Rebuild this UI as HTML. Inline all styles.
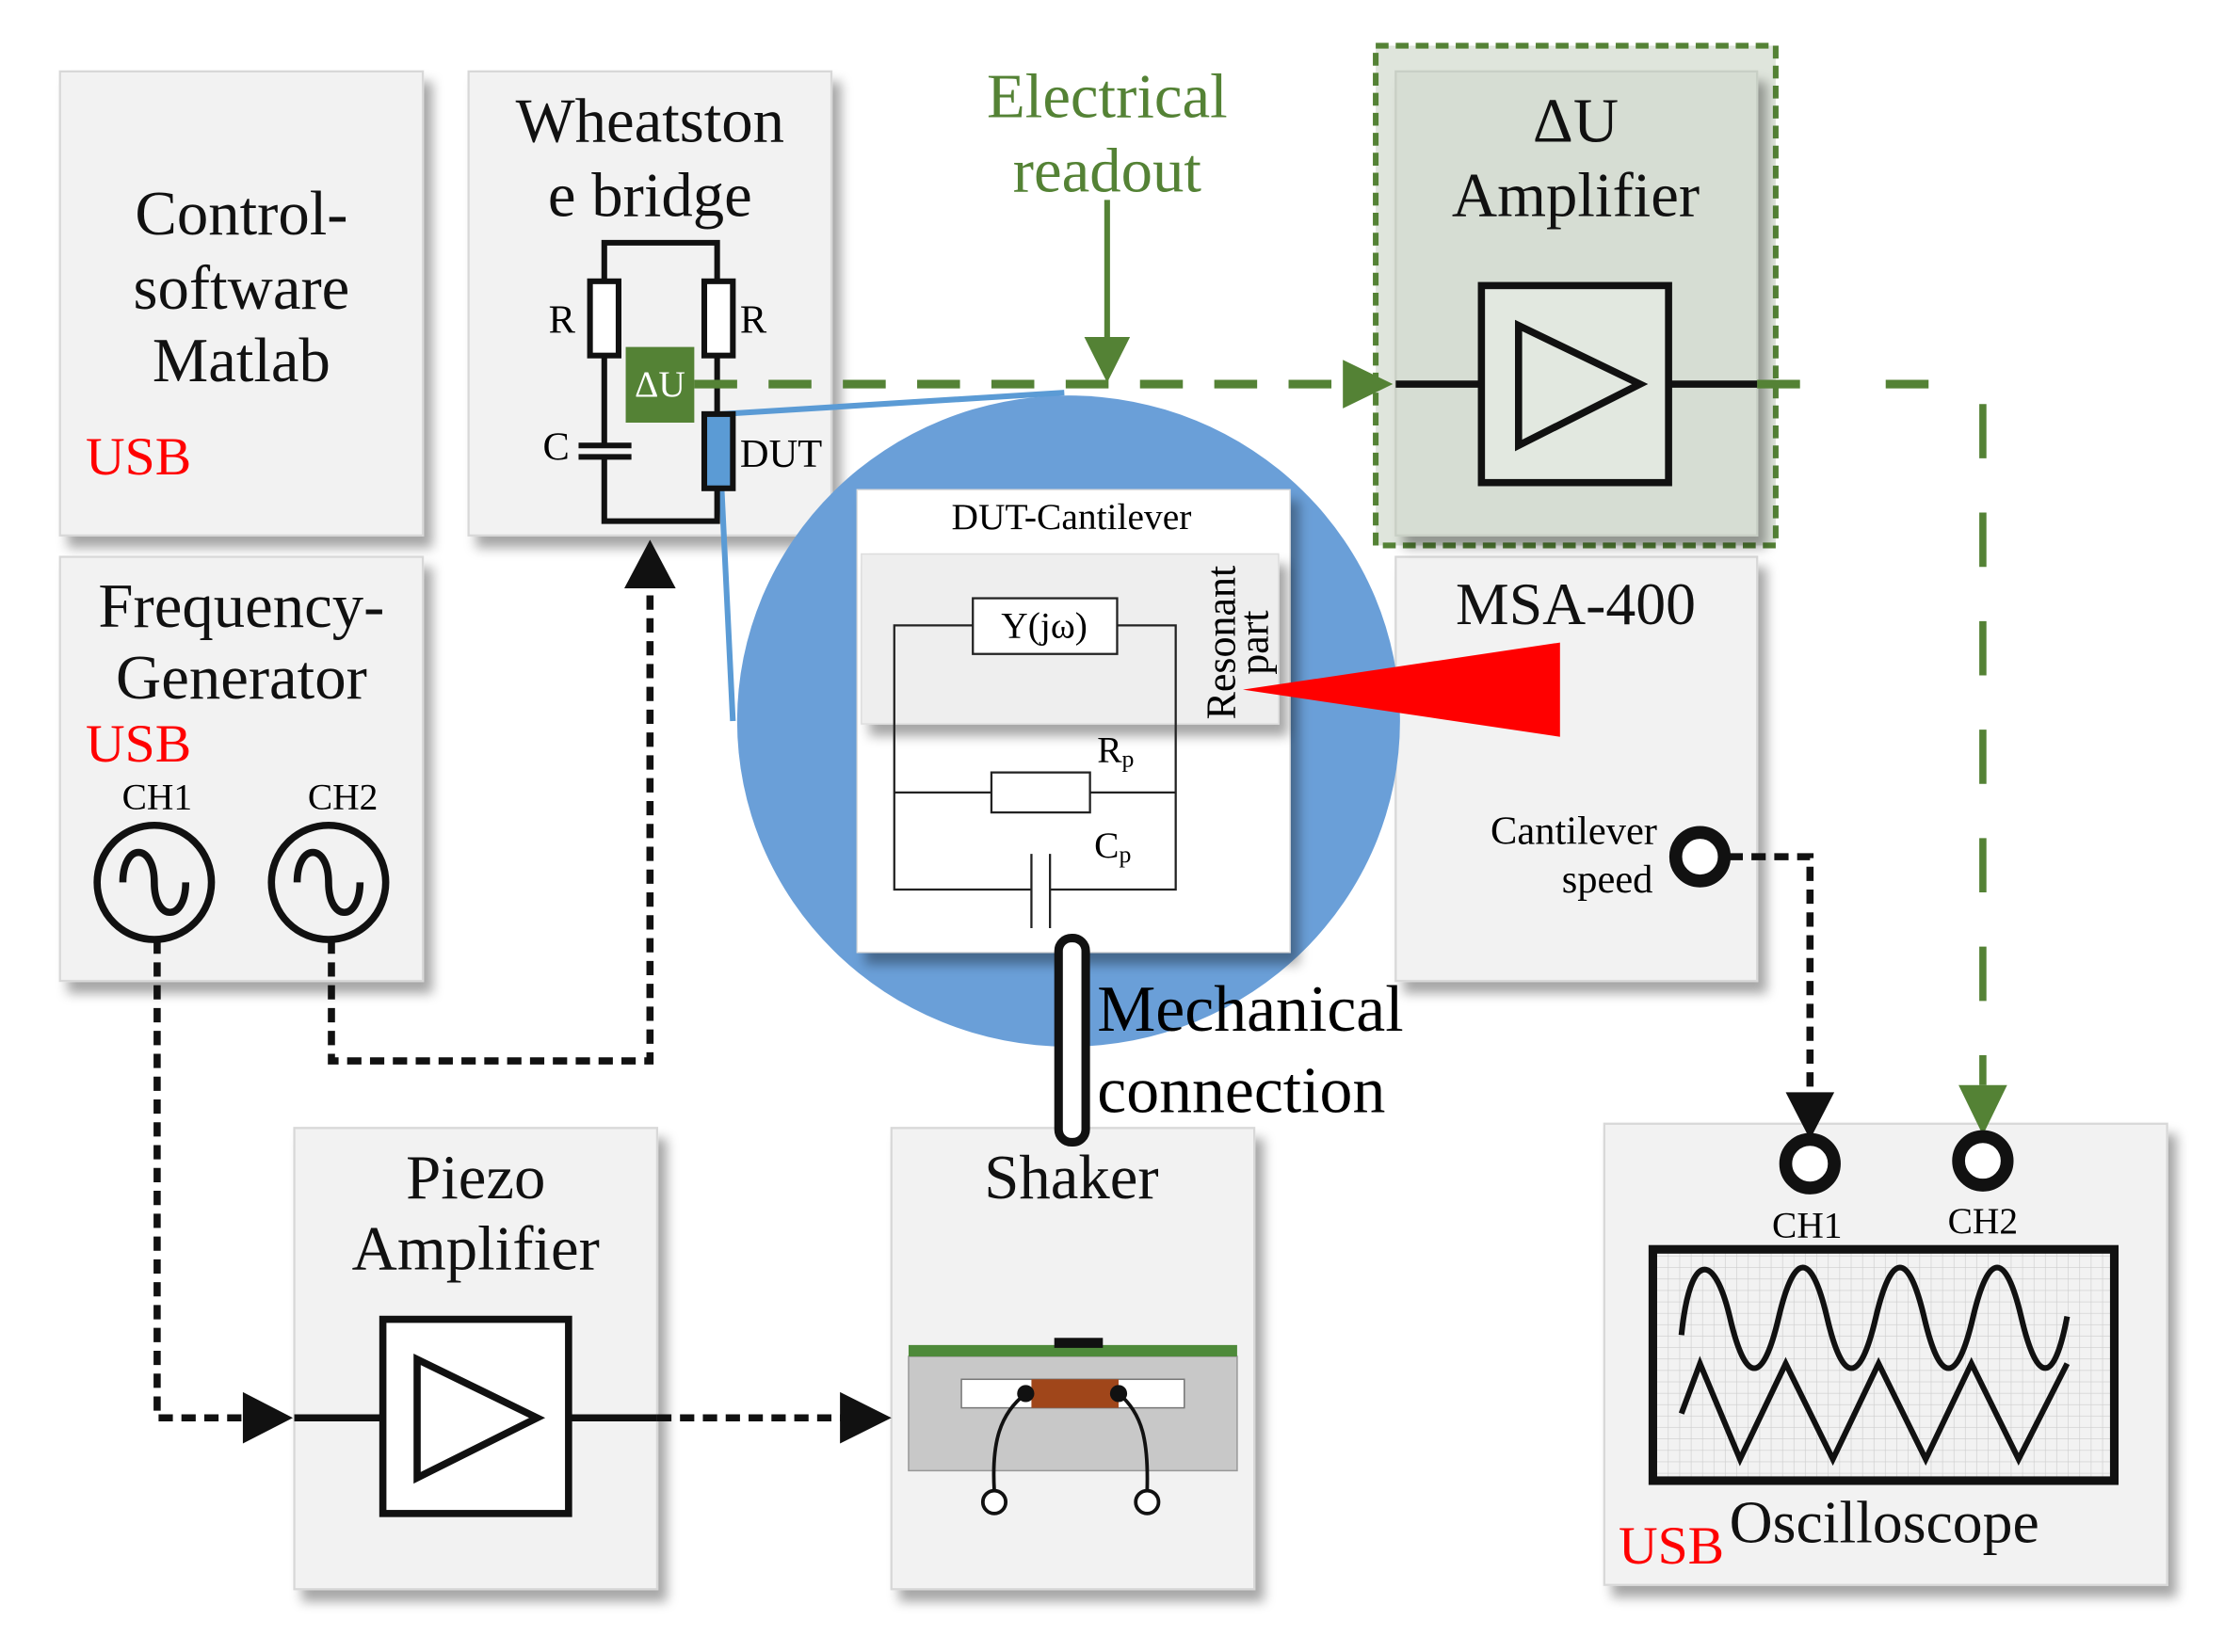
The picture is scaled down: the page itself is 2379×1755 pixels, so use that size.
<!DOCTYPE html>
<html><head><meta charset="utf-8"><style>html,body{margin:0;padding:0;background:#fff}svg{display:block}</style></head>
<body>
<svg width="2379" height="1755" viewBox="0 0 1568 1157" preserveAspectRatio="none" xmlns="http://www.w3.org/2000/svg" font-family="'Liberation Serif', serif">
<defs>
<filter id="sh" x="-10%" y="-10%" width="130%" height="130%"><feDropShadow dx="6" dy="8" stdDeviation="4" flood-color="#000" flood-opacity="0.35"/></filter>
<pattern id="grid" width="8" height="8" patternUnits="userSpaceOnUse"><path d="M8 0V8M0 8H8" stroke="#ccc" stroke-width="0.8" fill="none"/></pattern>
</defs>
<g filter="url(#sh)" stroke="#d8d8d8" stroke-width="1.5" fill="#f2f2f2">
<rect x="42" y="50" width="254" height="325"/>
<rect x="328" y="50" width="254" height="325"/>
<rect x="42" y="390" width="254" height="297"/>
<rect x="977" y="390" width="253" height="297"/>
<rect x="206" y="790" width="254" height="323"/>
<rect x="624" y="790" width="254" height="323"/>
<rect x="1123" y="787" width="394" height="323"/>
</g>
<rect x="963" y="32" width="280" height="350" fill="#dfe5dc" stroke="#548235" stroke-width="4" stroke-dasharray="9,5"/>
<rect x="977" y="50" width="253" height="325" fill="#d6ddd3" stroke="#c8cfc5" stroke-width="1.5" filter="url(#sh)"/>

<g font-size="44" text-anchor="middle" dominant-baseline="central" fill="#111">
<text x="169" y="150">Control-</text><text x="169" y="202">software</text><text x="169" y="253">Matlab</text>
<text x="455" y="85">Wheatston</text><text x="455" y="137">e bridge</text>
<text x="169" y="425">Frequency-</text><text x="169" y="475">Generator</text>
<text x="1103" y="85">ΔU</text><text x="1103" y="137">Amplifier</text>
<text x="1103" y="423" font-size="42">MSA-400</text>
<text x="333" y="825">Piezo</text><text x="333" y="875">Amplifier</text>
<text x="750" y="825">Shaker</text>
<text x="1319" y="1066" font-size="42">Oscilloscope</text>
</g>
<g fill="#ff0000" font-size="38" dominant-baseline="central">
<text x="60" y="320">USB</text><text x="60" y="521">USB</text><text x="1133" y="1083">USB</text>
</g>
<g fill="#548235" font-size="44" text-anchor="middle" dominant-baseline="central">
<text x="775" y="68">Electrical</text><text x="775" y="120">readout</text>
</g>

<ellipse cx="748" cy="505" rx="232" ry="228" fill="#6a9fd8"/>
<path d="M505 290 L745 275 M505 340 L513 505" stroke="#5b9bd5" stroke-width="4" fill="none"/>
<rect x="600" y="343" width="303" height="324" fill="#fff" stroke="#ddd" filter="url(#sh)"/>
<rect x="603" y="388" width="292" height="119" fill="#eeeeee" stroke="#ddd" filter="url(#sh)"/>
<text x="750" y="362" font-size="26" text-anchor="middle" dominant-baseline="central">DUT-Cantilever</text>
<g stroke="#222" stroke-width="1.5" fill="none">
<path d="M681 438H626V623H722M735 623H823V438H782M626 555H694M763 555H823"/>
<rect x="681" y="419" width="101" height="39" fill="#fff"/>
<rect x="694" y="541" width="69" height="28" fill="#fff"/>
<path d="M722 598V650M735 598V650"/>
</g>
<text x="731" y="438" font-size="26" text-anchor="middle" dominant-baseline="central">Y(jω)</text>
<text x="768" y="525" font-size="26" dominant-baseline="central">R<tspan font-size="17" dy="6">p</tspan></text>
<text x="766" y="592" font-size="26" dominant-baseline="central">C<tspan font-size="17" dy="6">p</tspan></text>
<text transform="translate(855,450) rotate(-90)" font-size="29" text-anchor="middle" dominant-baseline="central">Resonant</text>
<text transform="translate(878,450) rotate(-90)" font-size="29" text-anchor="middle" dominant-baseline="central">part</text>
<polygon points="870,483 1092,450 1092,516" fill="#ff0000"/>

<g stroke="#111" stroke-width="4" fill="none">
<path d="M423 197V170H502V197M423 249V313M423 320V365H502V342M502 249V290"/>
<rect x="413" y="197" width="20" height="52" fill="#fff"/>
<rect x="493" y="197" width="20" height="52" fill="#fff"/>
<rect x="493" y="290" width="20" height="52" fill="#5b9bd5"/>
<path d="M405 312H442M405 320H442"/>
</g>
<rect x="438" y="243" width="48" height="53" fill="#548235"/>
<text x="462" y="269" font-size="26" fill="#fff" text-anchor="middle" dominant-baseline="central">ΔU</text>
<g font-size="28" dominant-baseline="central">
<text x="384" y="224">R</text><text x="518" y="224">R</text><text x="380" y="313">C</text><text x="518" y="318">DUT</text>
</g>

<path d="M486 269H945" stroke="#548235" stroke-width="6" stroke-dasharray="30,22" fill="none"/>
<polygon points="940,252 975,269 940,286" fill="#548235"/>
<path d="M775 140V245" stroke="#548235" stroke-width="4"/>
<polygon points="759,236 791,236 775,268" fill="#548235"/>
<path d="M1230 269H1370" stroke="#548235" stroke-width="6" stroke-dasharray="30,60" fill="none"/>
<path d="M1388 283V760" stroke="#548235" stroke-width="5" stroke-dasharray="38,38" fill="none"/>
<polygon points="1371,760 1405,760 1388,795" fill="#548235"/>

<g stroke="#111" stroke-width="5" fill="none">
<path d="M977 269H1037M1168 269H1230"/>
<rect x="1037" y="200" width="131" height="138" fill="#e2e8e0"/>
<polygon points="1063,228 1063,312 1148,269"/>
<path d="M206 993H268M398 993H460"/>
<rect x="268" y="924" width="130" height="136" fill="#fff"/>
<polygon points="292,952 292,1035 376,993"/>
</g>

<g stroke="#111" stroke-width="5" fill="none">
<circle cx="108" cy="618" r="40"/><circle cx="230" cy="618" r="40"/>
<path d="M86 618C86 590 108 590 108 618S130 646 130 618"/>
<path d="M208 618C208 590 230 590 230 618S252 646 252 618"/>
</g>
<g font-size="26" text-anchor="middle" dominant-baseline="central">
<text x="110" y="558">CH1</text><text x="240" y="558">CH2</text>
<text x="1265" y="858">CH1</text><text x="1388" y="855">CH2</text>
</g>

<g stroke="#111" stroke-width="5" stroke-dasharray="10,6" fill="none">
<path d="M110 658V993H172"/>
<path d="M232 658V743H455V410"/>
<path d="M460 993H590"/>
<path d="M1210 600H1267V765"/>
</g>
<polygon points="170,975 205,993 170,1011" fill="#111"/>
<polygon points="437,412 473,412 455,378" fill="#111"/>
<polygon points="588,975 624,993 588,1011" fill="#111"/>
<polygon points="1250,765 1284,765 1267,798" fill="#111"/>

<g font-size="28" text-anchor="end" dominant-baseline="central">
<text x="1160" y="582">Cantilever</text><text x="1157" y="616">speed</text>
</g>
<circle cx="1190" cy="600" r="17" fill="#fff" stroke="#111" stroke-width="9"/>
<circle cx="1267" cy="815" r="17" fill="#fff" stroke="#111" stroke-width="9"/>
<circle cx="1388" cy="813" r="17" fill="#fff" stroke="#111" stroke-width="9"/>

<rect x="741" y="657" width="19" height="143" rx="9" fill="#fff" stroke="#111" stroke-width="6"/>
<g font-size="46" dominant-baseline="central">
<text x="768" y="707">Mechanical</text><text x="768" y="764">connection</text>
</g>

<rect x="636" y="950" width="230" height="80" fill="#c8c8c8" stroke="#999"/>
<rect x="636" y="942" width="230" height="8" fill="#4e8a3a"/>
<rect x="738" y="937" width="34" height="7" fill="#111"/>
<rect x="673" y="966" width="156" height="20" fill="#fff" stroke="#777"/>
<rect x="722" y="966" width="61" height="20" fill="#a0461a"/>
<g stroke="#111" stroke-width="2.5" fill="none">
<path d="M718 976C700 990 694 1010 696 1044M783 976C800 990 804 1010 803 1044"/>
<circle cx="696" cy="1052" r="8" fill="#fff"/><circle cx="803" cy="1052" r="8" fill="#fff"/>
</g>
<circle cx="718" cy="976" r="6" fill="#111"/><circle cx="783" cy="976" r="6" fill="#111"/>

<rect x="1157" y="875" width="323" height="162" fill="url(#grid)" stroke="#111" stroke-width="6"/>
<g stroke="#111" stroke-width="4" fill="none">
<path d="M1177 935C1183 876 1200 876 1211 923S1234 970 1245 923S1268 876 1279 923S1302 970 1313 923S1336 876 1347 923S1370 970 1381 923S1404 876 1415 923S1438 970 1447 922"/>
<path d="M1177 990L1190 955L1218 1022L1250 955L1283 1022L1315 955L1348 1022L1380 955L1413 1022L1447 955"/>
</g>
</svg>
</body></html>
